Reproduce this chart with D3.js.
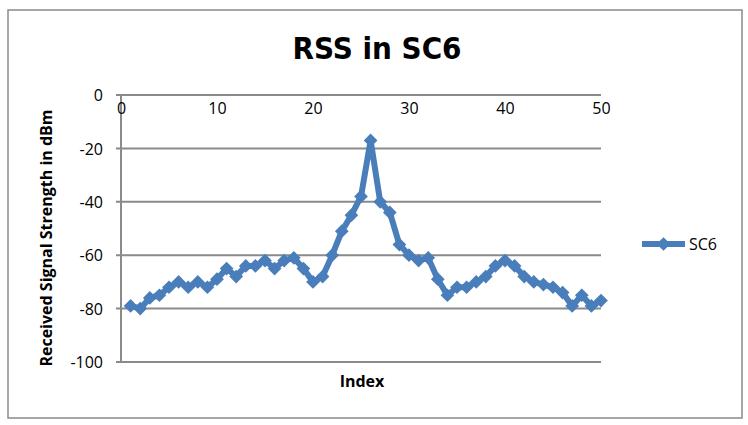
<!DOCTYPE html>
<meta charset="utf-8">
<script src="https://d3js.org/d3.v7.min.js"></script>
<style>
body { margin: 0; background: #fff; }
.tick text { font-family: "Open Sans", sans-serif; font-size: 16px; fill: #000; }
.grid line { stroke: #8a8a8a; stroke-width: 2px; }
.title { font-family: "Liberation Sans Narrow", "DejaVu Sans Condensed", sans-serif; font-weight: bold; font-size: 31px; }
.axis-title { font-family: "Open Sans", sans-serif; font-weight: bold; font-size: 16px; }
</style>
<div id="plot"></div>
<script>
// index values 1..50 and RSS readings (dBm)
var index = d3.range(1, 51);
var rss = [-79, -80, -76, -75, -72, -70, -72, -70, -72, -69,
           -65, -68, -64, -64, -62, -65, -62, -61, -65, -70,
           -68, -60, -51, -45, -38, -17, -40, -44, -56, -60,
           -62, -61, -69, -75, -72, -72, -70, -68, -64, -62,
           -64, -68, -70, -71, -72, -74, -79, -75, -79, -77];
var xTicks = [0, 10, 20, 30, 40, 50];
var yTicks = [0, -20, -40, -60, -80, -100];
var seriesName = "SC6";

var W = 748, H = 425;
var blue = "#4a7ebb", grey = "#8a8a8a";

var svg = d3.select("#plot").append("svg")
    .attr("width", W).attr("height", H);

// outer chart border
svg.append("rect")
    .attr("x", 8).attr("y", 10).attr("width", 734).attr("height", 408)
    .attr("fill", "#fff").attr("stroke", grey).attr("stroke-width", 1.5);

var x = d3.scaleLinear().domain([0, 50]).range([121, 601]);
var y = d3.scaleLinear().domain([-100, 0]).range([362, 95]);

// horizontal gridlines
svg.append("g").attr("class", "grid")
  .selectAll("line").data(yTicks).enter().append("line")
    .attr("x1", x(0) - 5).attr("x2", x(50))
    .attr("y1", function(d) { return y(d); })
    .attr("y2", function(d) { return y(d); });

// y axis line
svg.append("line")
    .attr("x1", x(0)).attr("x2", x(0)).attr("y1", y(0)).attr("y2", y(-100))
    .attr("stroke", grey).attr("stroke-width", 2);

var fmt = function(d) { return String(d); };

// y tick labels
var yAxis = svg.append("g")
    .attr("transform", "translate(" + (x(0) - 18) + ",0)")
    .call(d3.axisLeft(y).tickValues(yTicks).tickFormat(fmt).tickSize(0).tickPadding(0));
yAxis.select(".domain").remove();
yAxis.selectAll("text").attr("dy", "0.35em");

// x tick labels sit just under the zero line
var xAxis = svg.append("g")
    .attr("transform", "translate(0," + (y(0) + 5) + ")")
    .call(d3.axisBottom(x).tickValues(xTicks).tickFormat(fmt).tickSize(0).tickPadding(0));
xAxis.select(".domain").remove();
xAxis.selectAll("text").attr("dy", "0.9em");

// series line
svg.append("path")
    .datum(index)
    .attr("fill", "none")
    .attr("stroke", blue)
    .attr("stroke-width", 6)
    .attr("stroke-linejoin", "round")
    .attr("d", d3.line()
        .x(function(d) { return x(d); })
        .y(function(d, i) { return y(rss[i]); }));

var diamond = d3.symbol().type(d3.symbolDiamond2).size(120);

svg.append("g").selectAll("path").data(index).enter().append("path")
    .attr("d", diamond)
    .attr("fill", blue)
    .attr("transform", function(d, i) { return "translate(" + x(d) + "," + y(rss[i]) + ")"; });

// titles
svg.append("text").attr("class", "title")
    .attr("x", 377).attr("y", 59).attr("text-anchor", "middle")
    .text("RSS in SC6");

svg.append("text").attr("class", "axis-title")
    .attr("transform", "translate(52,238) rotate(-90)")
    .attr("text-anchor", "middle")
    .text("Received Signal  Strength in dBm");

svg.append("text").attr("class", "axis-title")
    .attr("x", 362).attr("y", 387).attr("text-anchor", "middle")
    .text("Index");

// legend
var lg = svg.append("g").attr("transform", "translate(642,244)");
lg.append("line").attr("x1", 0).attr("x2", 43)
    .attr("stroke", blue).attr("stroke-width", 6);
lg.append("path").attr("d", diamond).attr("fill", blue)
    .attr("transform", "translate(21.5,0)");
lg.append("text").attr("x", 47).attr("dy", "0.35em")
    .style("font-family", "Open Sans, sans-serif").style("font-size", "16px")
    .text(seriesName);
</script>
